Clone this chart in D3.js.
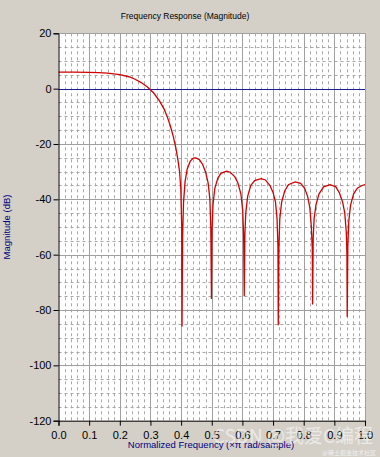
<!DOCTYPE html>
<html lang="en">
<head>
  <meta charset="UTF-8">
  <title>Frequency Response (Magnitude)</title>
  <style>
    body {
      margin: 0;
      background: #d4d0c8;
      font-family: Arial, "Liberation Sans", sans-serif;
    }
    svg {
      display: block;
    }
  </style>
  <script src="https://d3js.org/d3.v7.min.js"></script>
</head>
<body>

<svg width="380" height="457"></svg>

<script>
  // normalized frequency (x pi rad/sample)
  const freq = [
    0.0, 0.05, 0.1, 0.13, 0.16, 0.2, 0.23, 0.25, 0.27, 0.29, 0.31, 0.33, 0.345, 0.355, 0.365, 0.375, 0.383, 0.39, 0.395, 0.399, 0.402, 0.403,
    0.405, 0.408, 0.413, 0.42, 0.43, 0.44, 0.448, 0.46, 0.47, 0.48, 0.488, 0.494, 0.497, 0.499,
    0.501, 0.504, 0.51, 0.52, 0.53, 0.548, 0.56, 0.575, 0.585, 0.595, 0.601, 0.604, 0.606,
    0.608, 0.611, 0.617, 0.627, 0.64, 0.661, 0.675, 0.69, 0.70, 0.708, 0.713, 0.716, 0.717,
    0.719, 0.722, 0.728, 0.738, 0.75, 0.772, 0.79, 0.803, 0.813, 0.82, 0.825, 0.828, 0.829,
    0.831, 0.834, 0.84, 0.85, 0.865, 0.886, 0.905, 0.917, 0.927, 0.934, 0.939, 0.941, 0.942,
    0.944, 0.947, 0.953, 0.963, 0.975, 0.99, 1.0
  ];

  // magnitude in dB at each frequency above
  const magnitude = [
    6.0, 6.0, 5.9, 5.8, 5.6, 5.1, 4.3, 3.4, 2.2, 0.6, -1.5, -4.5, -7.5, -10.2, -13.5, -17.5, -21.5, -26, -30, -36, -50, -86,
    -53, -41, -33.5, -29, -26.2, -25.1, -25, -25.7, -27.3, -30.2, -34, -40, -51, -76,
    -51, -42, -36, -32.3, -30.6, -29.8, -30.2, -31.8, -34, -38, -44, -53, -75,
    -53, -45, -39, -35, -33.2, -32.5, -33, -35, -37.5, -41, -47, -57, -85.5,
    -58, -47, -41, -37, -34.7, -33.7, -34.2, -36, -39, -43, -50, -58, -78,
    -54, -47, -42, -38, -35.5, -34.7, -35.5, -37.8, -41, -45, -52, -60, -82.5,
    -57, -48, -42, -38, -36, -35, -34.7
  ];

  const xTicks = [0.0, 0.1, 0.2, 0.3, 0.4, 0.5, 0.6, 0.7, 0.8, 0.9, 1.0];
  const yTicks = [20, 0, -20, -40, -60, -80, -100, -120];

  const svg = d3.select("svg"),
        width = +svg.attr("width"),
        height = +svg.attr("height");

  const margin = {top: 33.3, right: 15, bottom: 36.3, left: 58.5};

  const x = d3.scaleLinear()
    .domain([0, 1])
    .range([margin.left, width - margin.right]);

  const y = d3.scaleLinear()
    .domain([-120, 20])
    .range([height - margin.bottom, margin.top]);

  // plot background
  svg.append("rect")
    .attr("x", x(0))
    .attr("y", y(20))
    .attr("width", x(1) - x(0))
    .attr("height", y(-120) - y(20))
    .attr("fill", "#fff");

  // minor grid (dashed)
  const grid = svg.append("g");
  grid.selectAll(".minor-x")
    .data(d3.range(0, 51).map(i => i / 50).filter((d, i) => i % 5 !== 0))
    .enter().append("line")
      .attr("x1", d => Math.round(x(d)) + 0.5)
      .attr("x2", d => Math.round(x(d)) + 0.5)
      .attr("y1", y(20))
      .attr("y2", y(-120))
      .attr("stroke", "#a8a8a8")
      .attr("stroke-dasharray", "3,3");

  grid.selectAll(".minor-y")
    .data(d3.range(-120, 21, 5).filter(d => d % 20 !== 0))
    .enter().append("line")
      .attr("x1", x(0))
      .attr("x2", x(1))
      .attr("y1", d => Math.round(y(d)) + 0.5)
      .attr("y2", d => Math.round(y(d)) + 0.5)
      .attr("stroke", "#a8a8a8")
      .attr("stroke-dasharray", "3,3");

  // major grid
  grid.selectAll(".major-x")
    .data(xTicks.slice(1))
    .enter().append("line")
      .attr("x1", d => Math.round(x(d)) + 0.5)
      .attr("x2", d => Math.round(x(d)) + 0.5)
      .attr("y1", y(20))
      .attr("y2", y(-120))
      .attr("stroke", "#a0a0a0");

  grid.selectAll(".major-y")
    .data(yTicks.filter(d => d !== -120 && d !== 0))
    .enter().append("line")
      .attr("x1", x(0))
      .attr("x2", x(1))
      .attr("y1", d => Math.round(y(d)) + 0.5)
      .attr("y2", d => Math.round(y(d)) + 0.5)
      .attr("stroke", "#a0a0a0");

  // zero dB line
  svg.append("line")
    .attr("x1", x(0))
    .attr("x2", x(1))
    .attr("y1", Math.round(y(0)) + 0.5)
    .attr("y2", Math.round(y(0)) + 0.5)
    .attr("stroke", "#1c1c96");

  // response curve
  const line = d3.line()
    .x((d, i) => x(freq[i]))
    .y(d => y(d));

  svg.append("path")
    .datum(magnitude)
    .attr("fill", "none")
    .attr("stroke", "#d40000")
    .attr("stroke-width", 1.3)
    .attr("d", line);

  // axes
  const xAxis = d3.axisBottom(x)
    .tickValues(xTicks)
    .tickFormat(d3.format(".1f"))
    .tickSize(5);

  const yAxis = d3.axisLeft(y)
    .tickValues(yTicks)
    .tickFormat(d => String(d))   // plain hyphen, like the original
    .tickSize(5);

  svg.append("g")
    .attr("transform", `translate(0,${y(-120)})`)
    .call(xAxis)
    .call(g => g.selectAll("text").attr("font-size", 11).attr("font-family", "Arial, sans-serif").attr("dy", "0.9em"));

  svg.append("g")
    .attr("transform", `translate(${x(0)},0)`)
    .call(yAxis)
    .call(g => g.selectAll("text").attr("font-size", 11).attr("font-family", "Arial, sans-serif").attr("x", -7));

  svg.selectAll(".domain").attr("stroke", "#000");

  // titles
  svg.append("text")
    .attr("x", 185)
    .attr("y", 19)
    .attr("text-anchor", "middle")
    .attr("font-size", 8.5)
    .attr("fill", "#000")
    .text("Frequency Response (Magnitude)");

  svg.append("text")
    .attr("x", 211)
    .attr("y", 448)
    .attr("text-anchor", "middle")
    .attr("font-size", 9.5)
    .attr("fill", "#000080")
    .text("Normalized Frequency (\u00d7\u03c0 rad/sample)");

  svg.append("text")
    .attr("transform", "translate(10,227) rotate(-90)")
    .attr("text-anchor", "middle")
    .attr("font-size", 9.5)
    .attr("fill", "#000080")
    .text("Magnitude (dB)");

  // watermark
  svg.append("text")
    .attr("x", 213)
    .attr("y", 443)
    .attr("font-size", 19)
    .attr("fill", "#ffffff")
    .attr("opacity", 0.55)
    .attr("font-family", "'Noto Sans CJK SC', sans-serif")
    .text("CSDN @我爱C编程");

  svg.append("text")
    .attr("x", 376)
    .attr("y", 455)
    .attr("text-anchor", "end")
    .attr("font-size", 6)
    .attr("fill", "#ffffff")
    .attr("opacity", 0.7)
    .attr("font-family", "'Noto Sans CJK SC', sans-serif")
    .text("@稀土掘金技术社区");
</script>

</body>
</html>
